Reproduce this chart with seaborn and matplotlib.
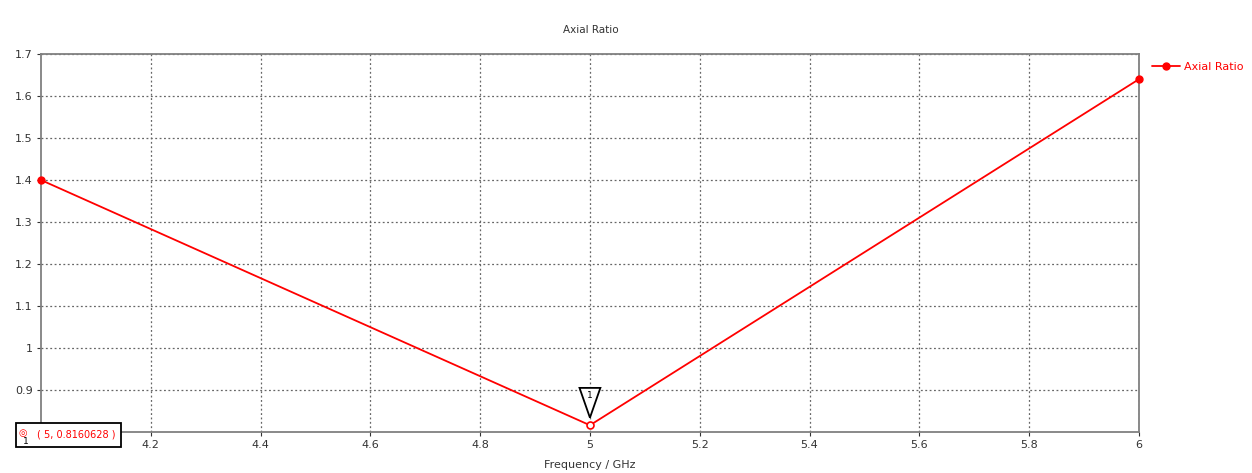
import matplotlib
matplotlib.use("Agg")
import matplotlib.pyplot as plt
import seaborn as sns
import pandas as pd
from matplotlib.lines import Line2D
from matplotlib.patches import Rectangle

sns.set_style("white")
plt.rcParams['font.family'] = ['DejaVu Sans']

freq = [4.0, 5.0, 6.0]
axial_ratio = [1.40, 0.8160628, 1.64]
x_ticks = [4.2, 4.4, 4.6, 4.8, 5.0, 5.2, 5.4, 5.6, 5.8, 6.0]
x_tick_labels = ["4.2", "4.4", "4.6", "4.8", "5", "5.2", "5.4", "5.6", "5.8", "6"]
y_ticks = [0.9, 1.0, 1.1, 1.2, 1.3, 1.4, 1.5, 1.6, 1.7]
y_tick_labels = ["0.9", "1", "1.1", "1.2", "1.3", "1.4", "1.5", "1.6", "1.7"]
marker_x = 5.0
marker_y = 0.8160628

df = pd.DataFrame({"Frequency": freq, "Axial Ratio": axial_ratio})

fig = plt.figure(figsize=(12.52, 4.73), dpi=100)
ax = fig.add_axes([0.0327, 0.0867, 0.877, 0.7991])

sns.lineplot(data=df, x="Frequency", y="Axial Ratio", ax=ax, color="#ff0000",
             linewidth=1.3, legend=False)
# endpoint dots
ax.plot([freq[0], freq[-1]], [axial_ratio[0], axial_ratio[-1]], 'o',
        color="#ff0000", markersize=5, clip_on=False, zorder=5)
# marker point (open circle)
ax.plot([marker_x], [marker_y], 'o', markerfacecolor='white', markeredgecolor="#ff0000",
        markersize=5, markeredgewidth=1.2, clip_on=False, zorder=6)

ax.set_xlim(4, 6)
ax.set_ylim(0.8, 1.7)
ax.set_xticks(x_ticks)
ax.set_xticklabels(x_tick_labels)
ax.set_yticks(y_ticks)
ax.set_yticklabels(y_tick_labels)
ax.tick_params(axis='both', labelsize=8, colors='#333333', length=3, width=0.8,
               direction='out', pad=3)
ax.tick_params(axis='both', which='both', bottom=True, left=True)
ax.grid(True, linestyle=(0, (1.5, 2)), color='#666666', linewidth=0.9)
for s in ax.spines.values():
    s.set_color('#808080')
    s.set_linewidth(1.3)

ax.set_xlabel("Frequency / GHz", fontsize=8, color='#333333', labelpad=7)
ax.set_ylabel("")
fig.text(0.4715, 0.93, "Axial Ratio", fontsize=7.5, color='#333333', ha='center')

# triangle marker label
tri = plt.Polygon([[4.981, 0.905], [5.019, 0.905], [5.0, 0.834]], closed=True,
                  facecolor='white', edgecolor='black', linewidth=1.3, zorder=7)
ax.add_patch(tri)
ax.text(5.0, 0.886, "1", fontsize=6.5, ha='center', va='center', color='black', zorder=8)

# legend
handle = Line2D([0], [0], color="#ff0000", marker='o', markersize=5, linewidth=1.3)
leg = ax.legend([handle], ["Axial Ratio"], loc='upper left', bbox_to_anchor=(1.005, 1.0),
                frameon=False, fontsize=8, handlelength=2.5, handletextpad=0.4,
                borderaxespad=0.3)
for t in leg.get_texts():
    t.set_color("#ff0000")

# marker readout box
box = Rectangle((0.0128, 0.055), 0.0838, 0.0507, transform=fig.transFigure,
                facecolor='white', edgecolor='black', linewidth=1.3, zorder=10)
fig.patches.append(box)
fig.text(0.0295, 0.0805, "( 5, 0.8160628 )", fontsize=7, color="#ff0000",
         ha='left', va='center', zorder=11)
fig.text(0.0180, 0.0845, "\u25CE", fontsize=7, color="#ff0000", ha='center', va='center',
         zorder=11)
fig.text(0.0205, 0.066, "1", fontsize=6.5, color="black", ha='center', va='center',
         zorder=11)

fig.savefig("out.png", dpi=100)
